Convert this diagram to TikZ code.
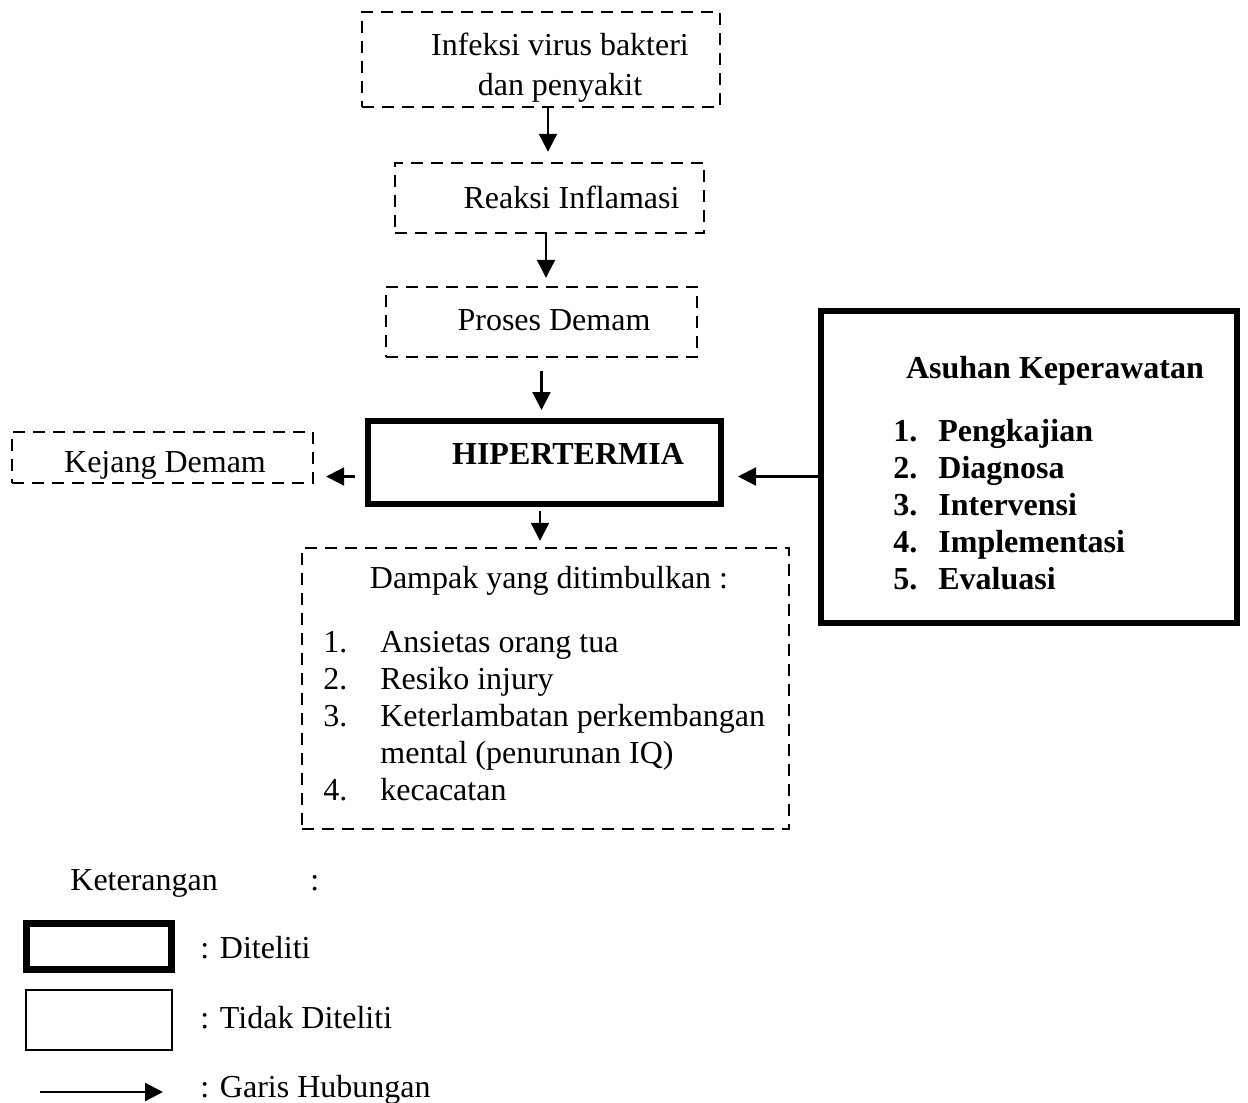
\documentclass[tikz,border=0pt]{standalone}
\usepackage{fontspec}
\setmainfont{Liberation Serif}
\usetikzlibrary{arrows.meta}

\begin{document}
\begin{tikzpicture}[x=0.5pt,y=-0.5pt,
  every node/.style={font=\fontsize{16}{20}\selectfont},
  dbox/.style={draw,dash pattern=on 6pt off 4pt,line width=1.2pt,inner sep=0pt},
  tbox/.style={draw,line width=3pt,inner sep=0pt},
  arr/.style={-{Triangle[length=9pt,width=9pt]},line width=1.1pt},
  lst/.style={anchor=base west,inner sep=0pt,font=\fontsize{16}{18.5}\selectfont},
  txt/.style={anchor=base west,inner sep=0pt}]
\useasboundingbox (0,0) rectangle (1248,1103);
% boxes
\node[dbox,minimum width=179pt,minimum height=47.5pt] (infeksi) at (541,59.5) {};
\node[align=center] (tinfeksi) at (560,68) {Infeksi virus bakteri\\dan penyakit};
\node[dbox,minimum width=154.5pt,minimum height=35pt] (reaksi) at (549.5,198) {};
\node (treaksi) at (571.5,197) {Reaksi Inflamasi};
\node[dbox,minimum width=155.5pt,minimum height=35pt] (proses) at (541.5,322) {};
\node (tproses) at (554,320) {Proses Demam};
\node[tbox,minimum width=176.5pt,minimum height=41.5pt] (hiper) at (544.5,462.5) {};
\node[font=\fontsize{16}{20}\selectfont\bfseries] (thiper) at (568,454) {HIPERTERMIA};
\node[dbox,minimum width=150.5pt,minimum height=25.5pt] (kejang) at (162.5,457.5) {};
\node[anchor=base,inner sep=0pt] (tkejang) at (165,472) {Kejang Demam};
\node[tbox,minimum width=208pt,minimum height=156pt] (asuhan) at (1029,467) {};
\node[font=\fontsize{16}{20}\selectfont\bfseries] (tasuhan) at (1055,371) {Asuhan Keperawatan};
\node[lst,font=\fontsize{16}{18.5}\selectfont\bfseries] (alist) at (893,441)
  {\begin{tabular}[t]{@{}p{22.5pt}@{}l@{}}
   1.&Pengkajian\\ 2.&Diagnosa\\ 3.&Intervensi\\ 4.&Implementasi\\ 5.&Evaluasi
   \end{tabular}};
\node[dbox,minimum width=243.5pt,minimum height=140.5pt] (dampak) at (545.5,688.5) {};
\node (tdampak) at (549,581) {Dampak yang ditimbulkan :};
\node[lst] (dlist) at (323,652)
  {\begin{tabular}[t]{@{}p{28.5pt}@{}l@{}}
   1.&Ansietas orang tua\\ 2.&Resiko injury\\ 3.&Keterlambatan perkembangan\\
     &mental (penurunan IQ)\\ 4.&kecacatan
   \end{tabular}};
% connectors
\draw[arr,shorten >=5pt] ([xshift=3.5pt]infeksi.south) -- ([xshift=3.5pt]infeksi.south |- reaksi.north);
\draw[arr,shorten >=4pt] ([xshift=-1.75pt]reaksi.south) -- ([xshift=-1.75pt]reaksi.south |- proses.north);
\draw[arr,shorten <=6.5pt,shorten >=4pt] (proses.south) -- (proses.south |- hiper.north);
\draw[arr,shorten <=2pt,shorten >=3pt] ([xshift=-2.25pt]hiper.south) -- ([xshift=-2.25pt]hiper.south |- dampak.north);
\coordinate (hl) at ([yshift=-7pt]hiper.west);
\coordinate (hr) at ([yshift=-7pt]hiper.east);
\draw[arr,shorten <=5pt,shorten >=6pt] (hl) -- (hl -| kejang.east);
\draw[arr,shorten >=7pt] (hr -| asuhan.west) -- (hr);
% keterangan
\node[txt] (ket) at (70,890) {Keterangan};
\node[txt] (ketc) at (310,890) {:};
\node[tbox,line width=3.5pt,minimum width=72.5pt,minimum height=23pt] (lgthick) at (99,946.5) {};
\node[txt] (tthick) at (200,958) {: Diteliti};
\node[draw,line width=0.8pt,minimum width=73pt,minimum height=30pt] (lgthin) at (99,1020) {};
\node[txt] (tthin) at (200,1028) {: Tidak Diteliti};
\coordinate (ga) at (40,1092);
\coordinate (gb) at (163,1092);
\draw[arr] (ga) -- (gb);
\node[txt] (tarr) at (200,1097) {: Garis Hubungan};
\end{tikzpicture}
\end{document}
